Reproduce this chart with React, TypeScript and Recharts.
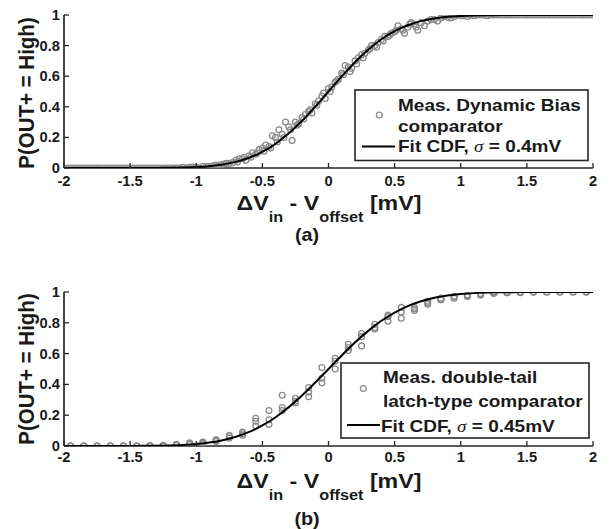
import React from 'react';
import { ScatterChart, Scatter, XAxis, YAxis } from 'recharts';

// ---------- shared axis ticks ----------
const xTicks = [-2, -1.5, -1, -0.5, 0, 0.5, 1, 1.5, 2];
const yTicks = [0, 0.2, 0.4, 0.6, 0.8, 1];

// ---------- fitted CDF curves ----------
const fitX = [-2, -1.9, -1.8, -1.7, -1.6, -1.5, -1.4, -1.3, -1.2, -1.1, -1, -0.9, -0.8, -0.7, -0.6, -0.5, -0.4, -0.3, -0.2, -0.1, 0, 0.1, 0.2, 0.3, 0.4, 0.5, 0.6, 0.7, 0.8, 0.9, 1, 1.1, 1.2, 1.3, 1.4, 1.5, 1.6, 1.7, 1.8, 1.9, 2];
const fitA = [0, 0, 0, 0, 0.0001, 0.0001, 0.0002, 0.0006, 0.0013, 0.003, 0.0062, 0.0122, 0.0228, 0.0401, 0.0668, 0.1056, 0.1587, 0.2266, 0.3085, 0.4013, 0.5, 0.5987, 0.6915, 0.7734, 0.8413, 0.8944, 0.9332, 0.9599, 0.9772, 0.9878, 0.9938, 0.997, 0.9987, 0.9994, 0.9998, 0.9999, 0.9999, 1, 1, 1, 1];
const fitB = [0, 0, 0, 0.0001, 0.0002, 0.0004, 0.0009, 0.0019, 0.0038, 0.0073, 0.0132, 0.0228, 0.0377, 0.0599, 0.0912, 0.1333, 0.187, 0.2525, 0.3284, 0.4121, 0.5, 0.5879, 0.6716, 0.7475, 0.813, 0.8667, 0.9088, 0.9401, 0.9623, 0.9772, 0.9868, 0.9927, 0.9962, 0.9981, 0.9991, 0.9996, 0.9998, 0.9999, 1, 1, 1];

// ---------- (a) measured: Dynamic Bias comparator ----------
const aLowX = [-2, -1.975, -1.95, -1.925, -1.9, -1.875, -1.85, -1.825, -1.8, -1.775, -1.75, -1.725, -1.7, -1.675, -1.65, -1.625, -1.6, -1.575, -1.55, -1.525, -1.5, -1.475, -1.45, -1.425, -1.4, -1.375, -1.35, -1.325, -1.3, -1.275, -1.25, -1.225, -1.2, -1.175, -1.15, -1.125, -1.1, -1.075, -1.05, -1.025];
const aLowY = [0, 0, 0, 0, 0, 0, 0, 0, 0, 0, 0, 0, 0, 0, 0, 0, 0, 0, 0, 0, 0, 0, 0, 0, 0, 0, 0, 0, 0, 0, 0, 0, 0, 0, 0, 0, 0.004, 0, 0.005, 0.006];
const aHighX = [1.025, 1.05, 1.075, 1.1, 1.125, 1.15, 1.175, 1.2, 1.225, 1.25, 1.275, 1.3, 1.325, 1.35, 1.375, 1.4, 1.425, 1.45, 1.475, 1.5, 1.525, 1.55, 1.575, 1.6, 1.625, 1.65, 1.675, 1.7, 1.725, 1.75, 1.775, 1.8, 1.825, 1.85, 1.875, 1.9, 1.925, 1.95, 1.975, 2];
const aHighY = [0.995, 0.99, 1, 0.995, 1, 1, 1, 0.995, 1, 1, 1, 1, 1, 1, 1, 1, 1, 1, 1, 1, 1, 1, 1, 1, 1, 1, 1, 1, 1, 1, 1, 1, 1, 1, 1, 1, 1, 1, 1, 1];
const aMidX1 = [-1, -0.95, -0.9, -0.85, -0.8, -0.75, -0.7, -0.65, -0.6, -0.55, -0.5, -0.45, -0.4, -0.35, -0.3, -0.25, -0.2, -0.15, -0.1, -0.05, 0, 0.05, 0.1, 0.15, 0.2, 0.25, 0.3, 0.35, 0.4, 0.45, 0.5, 0.55, 0.6, 0.65, 0.7, 0.75, 0.8, 0.85, 0.9, 0.95, 1];
const aMidY1 = [0.005, 0.01, 0.01, 0.02, 0.025, 0.03, 0.05, 0.06, 0.08, 0.09, 0.13, 0.14, 0.2, 0.22, 0.27, 0.3, 0.33, 0.37, 0.42, 0.47, 0.52, 0.56, 0.62, 0.66, 0.7, 0.74, 0.77, 0.8, 0.84, 0.86, 0.89, 0.91, 0.92, 0.94, 0.95, 0.96, 0.97, 0.98, 0.985, 0.99, 0.995];
const aMidX2 = [-0.975, -0.925, -0.875, -0.825, -0.775, -0.725, -0.675, -0.625, -0.575, -0.525, -0.475, -0.425, -0.375, -0.325, -0.275, -0.225, -0.175, -0.125, -0.075, -0.025, 0.025, 0.075, 0.125, 0.175, 0.225, 0.275, 0.325, 0.375, 0.425, 0.475, 0.525, 0.575, 0.625, 0.675, 0.725, 0.775, 0.825, 0.875, 0.925, 0.975];
const aMidY2 = [0, 0.01, 0.015, 0.02, 0.03, 0.035, 0.06, 0.05, 0.1, 0.12, 0.15, 0.21, 0.25, 0.3, 0.18, 0.29, 0.35, 0.36, 0.44, 0.455, 0.53, 0.58, 0.67, 0.65, 0.72, 0.75, 0.8, 0.82, 0.86, 0.88, 0.93, 0.88, 0.95, 0.9, 0.93, 0.97, 0.96, 0.99, 0.98, 1];
const aMidX3 = [-0.6875, -0.6375, -0.5875, -0.5375, -0.4875, -0.4375, -0.3875, -0.3375, -0.2875, -0.2375, -0.1875, -0.1375, -0.0875, -0.0375, 0.0125, 0.0625, 0.1125, 0.1625, 0.2125, 0.2625, 0.3125, 0.3625, 0.4125, 0.4625, 0.5125, 0.5625, 0.6125, 0.6625];
const aMidY3 = [0.04, 0.07, 0.07, 0.1, 0.11, 0.13, 0.17, 0.2, 0.25, 0.28, 0.32, 0.38, 0.41, 0.49, 0.5, 0.57, 0.61, 0.63, 0.68, 0.72, 0.78, 0.79, 0.83, 0.87, 0.9, 0.9, 0.94, 0.92];

// ---------- (b) measured: double-tail latch-type comparator ----------
const bX = [-1.95, -1.85, -1.75, -1.65, -1.55, -1.45, -1.35, -1.25, -1.15, -1.05, -0.95, -0.85, -0.75, -0.65, -0.55, -0.45, -0.35, -0.25, -0.15, -0.05, 0.05, 0.15, 0.25, 0.35, 0.45, 0.55, 0.65, 0.75, 0.85, 0.95, 1.05, 1.15, 1.25, 1.35, 1.45, 1.55, 1.65, 1.75, 1.85, 1.95];
const bY1 = [0, 0, 0, 0, 0, 0, 0, 0.003, 0.01, 0.02, 0.02, 0.04, 0.07, 0.09, 0.18, 0.23, 0.33, 0.31, 0.38, 0.51, 0.57, 0.66, 0.73, 0.79, 0.85, 0.9, 0.9, 0.94, 0.96, 0.97, 0.98, 0.99, 1, 1, 1, 1, 1, 1, 1, 1];
const bY2 = [0, 0, 0, 0, 0, 0, 0, 0, 0.005, 0.01, 0.025, 0.035, 0.05, 0.07, 0.16, 0.17, 0.25, 0.29, 0.35, 0.44, 0.55, 0.64, 0.71, 0.77, 0.84, 0.87, 0.89, 0.93, 0.95, 0.97, 0.975, 0.985, 0.995, 0.995, 1, 1, 1, 1, 1, 1];
const bY3 = [0, 0, 0, 0, 0, 0, 0.003, 0.005, 0.01, 0.015, 0.015, 0.03, 0.06, 0.08, 0.13, 0.14, 0.23, 0.28, 0.32, 0.41, 0.5, 0.62, 0.65, 0.76, 0.81, 0.83, 0.88, 0.92, 0.95, 0.96, 0.97, 0.98, 0.99, 0.995, 0.995, 1, 1, 1, 1, 1];

const zip = (xs: number[], ys: number[]) => xs.map((x, i) => ({ x, y: ys[i] }));

const FONT = '"Liberation Sans", Arial, Helvetica, sans-serif';
const AXIS = '#262626';
const MARK = '#8a8a8a';
const INK = '#1a1a1a';

const ST = ({ x, y, sx = 1.1, anchor = 'start', size, children, weight = 'bold' }: any) => (
  <g transform={`translate(${x},${y}) scale(${sx},1)`}>
    <text x={0} y={0} textAnchor={anchor} fontSize={size} fontWeight={weight} fontFamily={FONT} fill={INK} style={{ whiteSpace: 'pre' }}>
      {children}
    </text>
  </g>
);

const makeBottomTick = (dy: number) => (p: any) => (
  <g>
    <line x1={p.x} x2={p.x} y1={p.y} y2={p.y - 5} stroke={AXIS} strokeWidth={1.3} />
    <ST x={p.x} y={p.y + dy} anchor="middle" size={14} sx={1.05}>{String(p.payload.value)}</ST>
  </g>
);
const TopTick = (p: any) => <line x1={p.x} x2={p.x} y1={p.y} y2={p.y + 5} stroke={AXIS} strokeWidth={1.3} />;
const LeftTick = (p: any) => (
  <g>
    <line x1={p.x} x2={p.x + 5} y1={p.y} y2={p.y} stroke={AXIS} strokeWidth={1.3} />
    <ST x={p.x - 4} y={p.y + 5} anchor="end" size={14} sx={1.05}>{String(p.payload.value)}</ST>
  </g>
);
const RightTick = (p: any) => <line x1={p.x} x2={p.x - 5} y1={p.y} y2={p.y} stroke={AXIS} strokeWidth={1.3} />;

const Circ = (p: any) => <circle cx={p.cx} cy={p.cy} r={2.9} fill="none" stroke={MARK} strokeWidth={1.3} />;
const NoShape = () => <g />;

const Panel = ({ top, height, bottom, tickDy, groups, fit }: any) => (
  <div style={{ position: 'absolute', left: 0, top, width: 611, height }}>
    <ScatterChart width={611} height={height} margin={{ top: 15, right: 18, bottom, left: 0 }}>
      <XAxis xAxisId={0} type="number" dataKey="x" domain={[-2, 2]} ticks={xTicks} allowDataOverflow interval={0}
        height={40} tickSize={0} tickMargin={0} tickLine={false} tick={makeBottomTick(tickDy)}
        axisLine={{ stroke: AXIS, strokeWidth: 1.7 }} />
      <XAxis xAxisId="top" orientation="top" type="number" dataKey="x" domain={[-2, 2]} ticks={xTicks} allowDataOverflow interval={0}
        height={0} tickSize={0} tickMargin={0} tickLine={false} tick={TopTick}
        axisLine={{ stroke: AXIS, strokeWidth: 1.7 }} />
      <YAxis yAxisId={0} type="number" dataKey="y" domain={[0, 1]} ticks={yTicks} allowDataOverflow interval={0}
        width={64} tickSize={0} tickMargin={0} tickLine={false} tick={LeftTick}
        axisLine={{ stroke: AXIS, strokeWidth: 1.7 }} />
      <YAxis yAxisId="right" orientation="right" type="number" dataKey="y" domain={[0, 1]} ticks={yTicks} allowDataOverflow interval={0}
        width={0} tickSize={0} tickMargin={0} tickLine={false} tick={RightTick}
        axisLine={{ stroke: AXIS, strokeWidth: 1.7 }} />
      {groups.map((g: any, i: number) => (
        <Scatter key={i} xAxisId={0} yAxisId={0} data={g} shape={Circ} isAnimationActive={false} />
      ))}
      <Scatter xAxisId={0} yAxisId={0} data={fit} shape={NoShape} line={{ stroke: '#000', strokeWidth: 2 }}
        lineJointType="monotoneX" isAnimationActive={false} />
    </ScatterChart>
  </div>
);

const XLabel = ({ y }: any) => (
  <g transform={`translate(329,${y}) scale(1.16,1)`}>
    <text x={0} y={0} textAnchor="middle" fontSize={20} fontWeight="bold" fontFamily={FONT} fill={INK} style={{ whiteSpace: 'pre' }}>
      <tspan>ΔV</tspan>
      <tspan fontSize={14} dy={12}>in</tspan>
      <tspan dy={-12}> - V</tspan>
      <tspan fontSize={14} dy={12}>offset</tspan>
      <tspan dy={-12}> [mV]</tspan>
    </text>
  </g>
);

const YLabel = ({ cy }: any) => (
  <g transform={`translate(34,${cy}) scale(1.08,1) rotate(-90)`}>
    <text x={0} y={0} textAnchor="middle" fontSize={20.5} fontWeight="bold" fontFamily={FONT} fill={INK} style={{ whiteSpace: 'pre' }}>
      P(OUT+ = High)
    </text>
  </g>
);

const Sigma = () => <tspan fontFamily='"Liberation Serif", "DejaVu Serif", serif' fontStyle="italic" fontWeight="normal">σ</tspan>;

export default function App() {
  const groupsA = [zip(aLowX, aLowY), zip(aHighX, aHighY), zip(aMidX1, aMidY1), zip(aMidX2, aMidY2), zip(aMidX3, aMidY3)];
  const groupsB = [zip(bX, bY1), zip(bX, bY2), zip(bX, bY3)];
  return (
    <div style={{ position: 'absolute', left: 0, top: 0, width: 611, height: 529, background: '#fff', overflow: 'hidden' }}>
      <Panel top={0} height={265} bottom={57} tickDy={18} groups={groupsA} fit={zip(fitX, fitA)} />
      <Panel top={277} height={252} bottom={43} tickDy={15.5} groups={groupsB} fit={zip(fitX, fitB)} />
      <svg width={611} height={529} style={{ position: 'absolute', left: 0, top: 0, pointerEvents: 'none' }}>
        <YLabel cy={93} />
        <YLabel cy={369} />
        <XLabel y={210} />
        <XLabel y={488} />
        <ST x={307} y={241} anchor="middle" size={18} sx={1.1}>(a)</ST>
        <ST x={307} y={525} anchor="middle" size={18} sx={1.1}>(b)</ST>

        {/* legend (a) */}
        <rect x={355} y={90} width={233} height={70.5} fill="#fff" stroke={AXIS} strokeWidth={1.6} />
        <circle cx={379.3} cy={115} r={2.9} fill="none" stroke={MARK} strokeWidth={1.3} />
        <line x1={362} x2={395} y1={146.5} y2={146.5} stroke="#000" strokeWidth={2} />
        <ST x={398} y={110.5} size={17} sx={1.12}>Meas. Dynamic Bias</ST>
        <ST x={398} y={131.5} size={17} sx={1.12}>comparator</ST>
        <ST x={398} y={152} size={17} sx={1.12}>Fit CDF, <Sigma /> = 0.4mV</ST>

        {/* legend (b) */}
        <rect x={341} y={363} width={248} height={75} fill="#fff" stroke={AXIS} strokeWidth={1.6} />
        <circle cx={363.3} cy={388.5} r={2.9} fill="none" stroke={MARK} strokeWidth={1.3} />
        <line x1={347} x2={380} y1={425} y2={425} stroke="#000" strokeWidth={2} />
        <ST x={383} y={382.5} size={17} sx={1.12}>Meas. double-tail</ST>
        <ST x={383} y={407} size={17} sx={1.12}>latch-type comparator</ST>
        <ST x={381} y={432} size={17} sx={1.12}>Fit CDF, <Sigma /> = 0.45mV</ST>
      </svg>
    </div>
  );
}
